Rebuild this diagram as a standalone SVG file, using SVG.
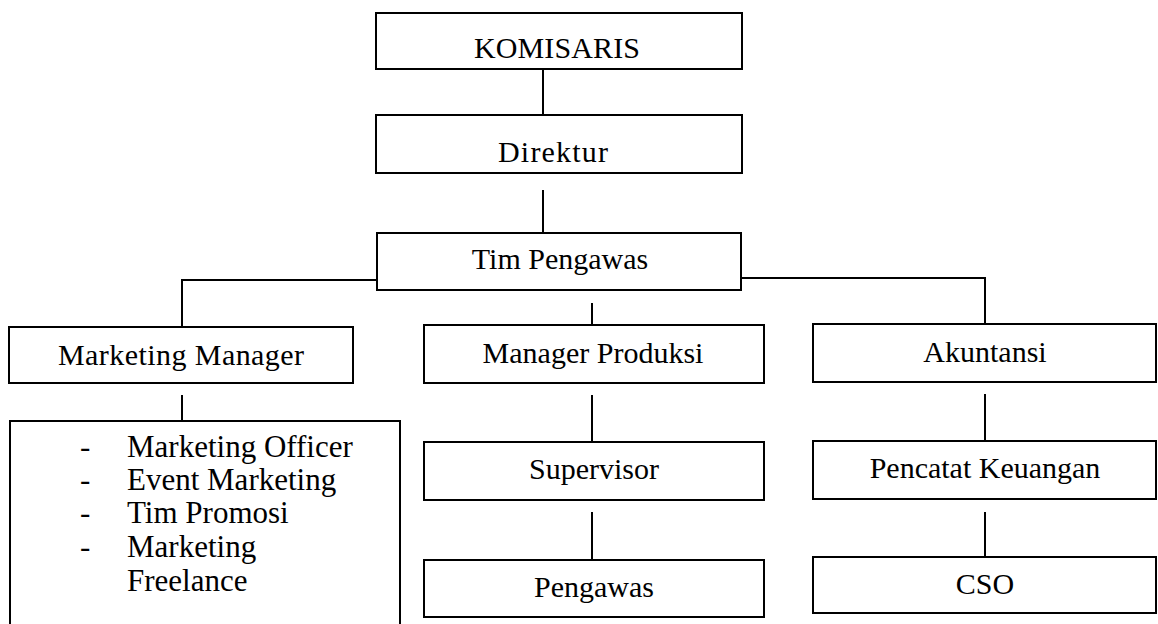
<svg xmlns="http://www.w3.org/2000/svg" width="1158" height="624" viewBox="0 0 1158 624">
<style>
.box{fill:#fff;stroke:#000;stroke-width:2}
.lbl{font-family:"Liberation Serif","Times New Roman",serif;font-size:30px;fill:#000;text-anchor:middle}
.lst{font-family:"Liberation Serif","Times New Roman",serif;font-size:31px;fill:#000}
.con{fill:none;stroke:#000;stroke-width:2}
</style>
<rect width="1158" height="624" fill="#fff"/>
<g id="connectors">
<path class="con" d="M543 69V115"/>
<path class="con" d="M543 190V233"/>
<path class="con" d="M377 280H182V327"/>
<path class="con" d="M741 278H985V324"/>
<path class="con" d="M592 303V325"/>
<path class="con" d="M182 395V421"/>
<path class="con" d="M592 395V442"/>
<path class="con" d="M985 394V441"/>
<path class="con" d="M592 512V560"/>
<path class="con" d="M985 512V557"/>
</g>
<g id="komisaris"><rect class="box" x="376" y="13" width="366" height="56"/><text class="lbl" x="557" y="58" textLength="166" lengthAdjust="spacing">KOMISARIS</text></g>
<g id="direktur"><rect class="box" x="376" y="115" width="366" height="58"/><text class="lbl" x="553" y="162" textLength="110" lengthAdjust="spacing">Direktur</text></g>
<g id="tim-pengawas"><rect class="box" x="377" y="233" width="364" height="57"/><text class="lbl" x="560" y="269">Tim Pengawas</text></g>
<g id="marketing-manager"><rect class="box" x="9" y="327" width="344" height="56"/><text class="lbl" x="181" y="365" textLength="246" lengthAdjust="spacing">Marketing Manager</text></g>
<g id="manager-produksi"><rect class="box" x="424" y="325" width="340" height="58"/><text class="lbl" x="593" y="363">Manager Produksi</text></g>
<g id="akuntansi"><rect class="box" x="813" y="324" width="343" height="58"/><text class="lbl" x="985" y="362">Akuntansi</text></g>
<g id="marketing-staff"><rect class="box" x="10" y="421" width="390" height="215"/>
<text class="lst" x="80" y="457">-</text><text class="lst" x="127" y="457">Marketing Officer</text>
<text class="lst" x="80" y="490">-</text><text class="lst" x="127" y="490">Event Marketing</text>
<text class="lst" x="80" y="523">-</text><text class="lst" x="127" y="523">Tim Promosi</text>
<text class="lst" x="80" y="557">-</text><text class="lst" x="127" y="557">Marketing</text>
<text class="lst" x="127" y="591">Freelance</text>
</g>
<g id="supervisor"><rect class="box" x="424" y="442" width="340" height="58"/><text class="lbl" x="594" y="479">Supervisor</text></g>
<g id="pencatat-keuangan"><rect class="box" x="813" y="441" width="343" height="58"/><text class="lbl" x="985" y="478">Pencatat Keuangan</text></g>
<g id="pengawas"><rect class="box" x="424" y="560" width="340" height="57"/><text class="lbl" x="594" y="597">Pengawas</text></g>
<g id="cso"><rect class="box" x="813" y="557" width="343" height="56"/><text class="lbl" x="985" y="594">CSO</text></g>
</svg>
